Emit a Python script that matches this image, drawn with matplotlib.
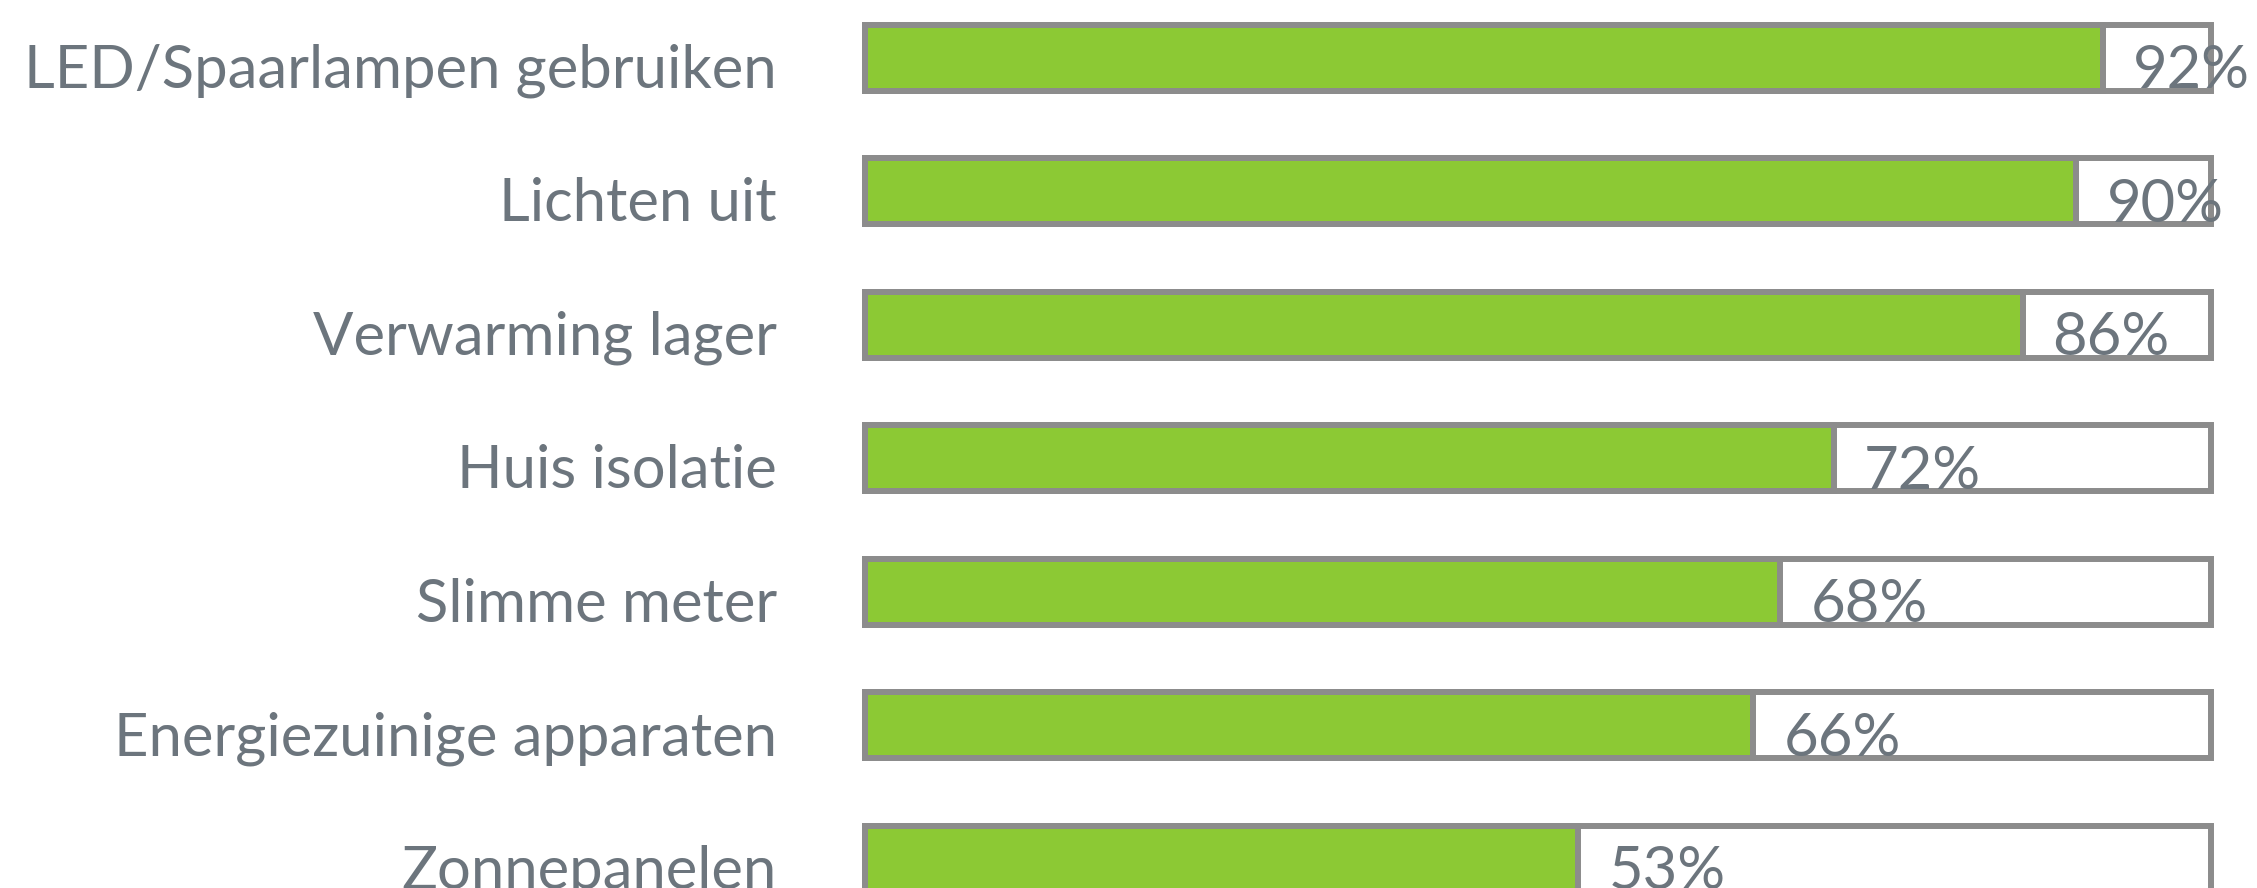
from matplotlib import pyplot as plt
import numpy as np

categories = ['LED/Spaarlampen gebruiken', 'Lichten uit', 'Verwarming lager',
              'Huis isolatie', 'Slimme meter', 'Energiezuinige apparaten',
              'Zonnepanelen']
values = [92, 90, 86, 72, 68, 66, 53]

GREEN = '#8cc934'
GRAY = '#8c8c8c'
TEXT = '#6c757d'


def main():
    plt.rcParams['font.family'] = ['Lato', 'DejaVu Sans']
    W, H = 2257, 888
    fig = plt.figure(figsize=(W / 100, H / 100), dpi=100)
    # axes spans the track area; one y unit = one row (133.5 px)
    left, right = 865, 2211
    ax = fig.add_axes([left / W, 0, (right - left) / W, 1])
    ax.set_xlim(0, 100)
    ax.set_ylim((H - 57.5) / 133.5, -57.5 / 133.5)
    ax.axis('off')

    y = np.arange(len(categories))
    h = 66 / 133.5
    lw = 4.3
    ax.barh(y, [100] * len(y), height=h, color='white', edgecolor=GRAY,
            linewidth=lw, clip_on=False)
    ax.barh(y, values, height=h, color=GREEN, edgecolor=GRAY,
            linewidth=lw, clip_on=False)

    px = 100 / (right - left)
    for yi, cat, v in zip(y, categories, values):
        ax.text(-(88 * px), yi + 0.225, cat, ha='right', va='baseline',
                fontsize=43, color=TEXT, clip_on=False)
        ax.text(v + 30 * px, yi + 0.232, f'{v}%', ha='left', va='baseline',
                fontsize=43, color=TEXT, clip_on=False)

    fig.savefig('out.png', dpi=100, facecolor='white')


if __name__ == "__main__":
    main()
